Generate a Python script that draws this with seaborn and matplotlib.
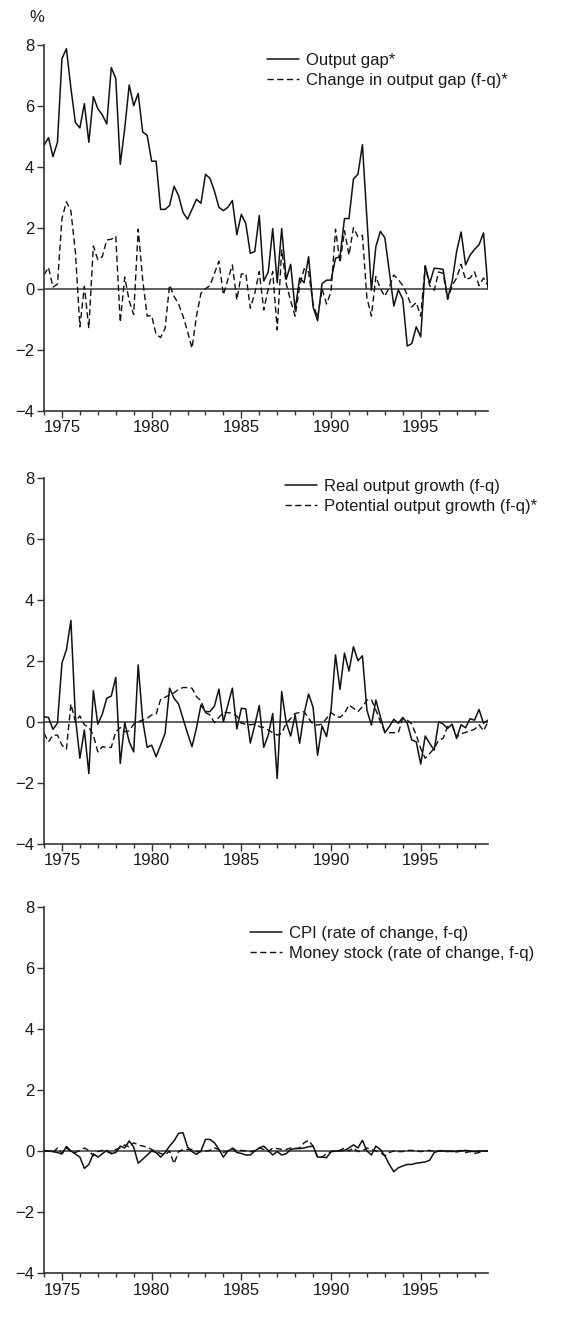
import numpy as np
import pandas as pd
import matplotlib
matplotlib.use("Agg")
import matplotlib.pyplot as plt
import seaborn as sns

# ---------------- data (quarterly, 1974Q1 .. 1998Q4) ----------------
quarters = pd.period_range("1974Q1", "1998Q4", freq="Q")

output_gap = [4.70, 4.95, 4.33, 4.80, 7.54, 7.87, 6.57, 5.45, 5.27, 6.07,
              4.80, 6.30, 5.90, 5.70, 5.40, 7.25, 6.90, 4.08, 5.25, 6.68,
              6.00, 6.40, 5.14, 5.03, 4.18, 4.18, 2.60, 2.60, 2.73, 3.36,
              3.05, 2.50, 2.28, 2.60, 2.93, 2.80, 3.75, 3.62, 3.20, 2.67,
              2.56, 2.67, 2.89, 1.77, 2.44, 2.13, 1.16, 1.22, 2.40, 0.25,
              0.55, 1.97, 0.20, 1.97, 0.30, 0.80, -0.70, 0.35, 0.20, 1.05,
              -0.60, -1.05, 0.17, 0.28, 0.28, 1.00, 1.05, 2.30, 2.30, 3.60,
              3.75, 4.72, 2.30, -0.05, 1.38, 1.88, 1.67, 0.56, -0.57, -0.04,
              -0.34, -1.88, -1.80, -1.25, -1.58, 0.75, 0.18, 0.67, 0.66, 0.63,
              -0.32, 0.23, 1.22, 1.86, 0.78, 1.10, 1.29, 1.44, 1.83, 0.00]

gap_change = [0.45, 0.70, 0.05, 0.15, 2.30, 2.85, 2.55, 1.20, -1.25, 0.08,
              -1.30, 1.40, 0.95, 1.05, 1.60, 1.62, 1.72, -1.10, 0.38, -0.40,
              -0.85, 1.95, 0.30, -0.90, -0.88, -1.50, -1.60, -1.30, 0.12, -0.25,
              -0.50, -0.90, -1.40, -1.95, -0.90, -0.15, 0.00, 0.10, 0.50, 0.90,
              -0.20, 0.30, 0.78, -0.37, 0.48, 0.50, -0.64, -0.15, 0.56, -0.70,
              0.00, 0.56, -1.35, 1.27, 0.17, -0.40, -0.90, 0.10, 0.65, 0.55,
              -0.50, -0.95, 0.00, -0.50, -0.10, 1.95, 0.85, 1.90, 1.10, 2.00,
              1.70, 1.75, -0.30, -0.90, 0.40, 0.00, -0.25, 0.05, 0.45, 0.30,
              0.10, -0.20, -0.60, -0.45, -0.90, 0.75, 0.10, -0.05, 0.55, 0.50,
              -0.35, 0.10, 0.35, 0.80, 0.30, 0.35, 0.55, 0.10, 0.35, 0.10]

real_growth = [0.16, 0.14, -0.25, -0.05, 1.92, 2.36, 3.32, 0.15, -1.20, -0.27,
               -1.70, 1.02, -0.08, 0.25, 0.77, 0.84, 1.45, -1.37, -0.03, -0.66,
               -0.99, 1.86, 0.05, -0.84, -0.77, -1.15, -0.77, -0.38, 1.10, 0.77,
               0.58, 0.10, -0.38, -0.82, -0.20, 0.55, 0.33, 0.33, 0.51, 1.07,
               0.00, 0.55, 1.10, -0.24, 0.44, 0.42, -0.70, -0.11, 0.53, -0.84,
               -0.44, 0.27, -1.86, 0.99, -0.03, -0.47, 0.22, -0.71, 0.27, 0.91,
               0.47, -1.10, -0.14, -0.49, 0.38, 2.19, 1.06, 2.25, 1.66, 2.46,
               2.00, 2.16, 0.38, -0.11, 0.71, 0.16, -0.36, -0.16, 0.08, -0.05,
               0.14, -0.05, -0.60, -0.66, -1.39, -0.47, -0.71, -0.93, 0.00, -0.08,
               -0.22, -0.08, -0.55, -0.10, -0.20, 0.10, 0.05, 0.40, -0.05, 0.05]

potential_growth = [-0.38, -0.66, -0.44, -0.44, -0.77, -0.90, 0.58, 0.00, 0.19, -0.10,
                    -0.19, -0.44, -0.99, -0.82, -0.84, -0.84, -0.33, -0.19, -0.33, -0.30,
                    -0.08, 0.00, 0.05, 0.11, 0.22, 0.25, 0.73, 0.80, 0.88, 0.95,
                    1.06, 1.12, 1.12, 1.10, 0.82, 0.69, 0.30, 0.22, -0.03, 0.14,
                    0.30, 0.30, 0.27, 0.19, -0.05, -0.08, -0.10, -0.08, -0.16, -0.19,
                    -0.27, -0.36, -0.44, -0.38, -0.05, 0.11, 0.27, 0.30, 0.33, 0.11,
                    -0.08, -0.11, -0.08, 0.11, 0.30, 0.19, 0.14, 0.27, 0.55, 0.44,
                    0.33, 0.49, 0.71, 0.73, 0.38, 0.00, -0.33, -0.36, -0.36, -0.36,
                    0.11, 0.05, -0.08, -0.44, -0.88, -1.20, -1.04, -0.88, -0.60, -0.55,
                    -0.16, -0.11, -0.50, -0.40, -0.35, -0.30, -0.25, -0.10, -0.30, 0.00]

cpi_change = [0.00, 0.00, -0.02, -0.05, -0.10, 0.15, 0.00, -0.10, -0.20, -0.57,
              -0.44, -0.09, -0.20, -0.09, 0.02, -0.09, -0.05, 0.16, 0.10, 0.33,
              0.13, -0.40, -0.27, -0.13, 0.00, -0.05, -0.20, -0.05, 0.16, 0.33,
              0.58, 0.60, 0.13, -0.02, -0.11, 0.00, 0.38, 0.38, 0.27, 0.05,
              -0.20, 0.00, 0.08, -0.05, -0.08, -0.13, -0.13, 0.00, 0.10, 0.16,
              0.02, -0.13, -0.02, -0.13, -0.09, 0.05, 0.08, 0.08, 0.10, 0.14,
              0.16, -0.20, -0.20, -0.22, -0.02, 0.00, 0.00, 0.02, 0.10, 0.20,
              0.10, 0.35, 0.00, -0.13, 0.16, 0.05, -0.16, -0.44, -0.68, -0.55,
              -0.49, -0.44, -0.44, -0.40, -0.38, -0.36, -0.30, -0.05, 0.00, 0.00,
              -0.02, 0.00, -0.03, 0.00, 0.02, 0.00, -0.02, 0.00, 0.00, 0.00]

money_change = [0.02, 0.00, -0.05, 0.10, -0.08, 0.10, -0.02, -0.05, 0.02, 0.10,
                0.02, -0.16, -0.02, 0.02, -0.02, -0.08, 0.05, 0.10, 0.20, 0.13,
                0.27, 0.20, 0.16, 0.13, 0.05, -0.02, -0.08, -0.13, 0.00, -0.42,
                -0.02, 0.05, 0.05, 0.05, -0.02, -0.02, 0.00, 0.02, 0.10, 0.05,
                -0.05, 0.00, 0.10, 0.00, 0.02, 0.00, -0.02, 0.00, 0.10, 0.05,
                -0.02, 0.10, 0.08, 0.05, 0.05, 0.10, 0.08, 0.10, 0.27, 0.35,
                0.16, -0.20, -0.20, -0.09, -0.02, 0.00, 0.02, 0.10, 0.00, 0.10,
                -0.02, 0.00, 0.10, 0.05, 0.00, -0.05, -0.16, -0.05, 0.00, -0.02,
                -0.02, 0.02, 0.02, 0.00, -0.02, 0.00, 0.02, -0.02, 0.00, 0.02,
                0.00, -0.02, 0.00, 0.02, -0.05, -0.02, -0.08, -0.05, 0.00, 0.00]

x_year_ticks = [1975, 1980, 1985, 1990, 1995]
y_ticks = [-4, -2, 0, 2, 4, 6, 8]

panels = [
    ("Output gap*", output_gap, "Change in output gap (f-q)*", gap_change),
    ("Real output growth (f-q)", real_growth, "Potential output growth (f-q)*", potential_growth),
    ("CPI (rate of change, f-q)", cpi_change, "Money stock (rate of change, f-q)", money_change),
]

# ---------------- style ----------------
sns.set_style("ticks")
plt.rcParams["font.family"] = ["Liberation Sans", "DejaVu Sans"]

W, H = 571, 1317
fig = plt.figure(figsize=(W / 100, H / 100), dpi=100)

x = quarters.year + (quarters.quarter - 1) / 4.0

# axes placement in pixels: (top of 8, bottom of -4)
ax_px = [(44.7, 410.7), (477.7, 843.7), (907.0, 1273.0)]
left_px, right_px = 44, 488
legend_px = [(267, 53), (285, 479), (250, 926)]
FS = 12

axc = "#333333"
for k, ((lab1, y1, lab2, y2), (top, bot), (lx, ly)) in enumerate(zip(panels, ax_px, legend_px)):
    ax = fig.add_axes([left_px / W, 1 - bot / H, (right_px - left_px) / W, (bot - top) / H])
    df = pd.DataFrame({"year": x, "a": y1, "b": y2})
    ax.axhline(0, color="#555555", lw=1.3, zorder=1)
    sns.lineplot(data=df, x="year", y="a", ax=ax, color="#111111", lw=1.1,
                 label=lab1, zorder=3)
    sns.lineplot(data=df, x="year", y="b", ax=ax, color="#111111", lw=1.0,
                 linestyle=(0, (4.5, 2.5)), label=lab2, zorder=2)
    ax.set_xlim(1974, 1998.75)
    ax.set_ylim(-4, 8)
    ax.set_xticks(x_year_ticks)
    ax.set_xticks(np.arange(1974, 1999), minor=True)
    ax.set_yticks(y_ticks)
    ax.set_xlabel("")
    ax.set_ylabel("")
    for s in ["top", "right"]:
        ax.spines[s].set_visible(False)
    for s in ["left", "bottom"]:
        ax.spines[s].set_color(axc)
        ax.spines[s].set_linewidth(1.2)
    ax.tick_params(axis="both", which="major", direction="out", length=5,
                   width=1.0, color=axc, labelsize=FS, labelcolor="#1a1a1a", pad=2)
    ax.tick_params(axis="x", which="minor", direction="out", length=3,
                   width=1.0, color=axc)
    ax.set_facecolor("white")
    leg = ax.legend(loc="upper left", bbox_to_anchor=(lx / W, 1 - ly / H),
                    bbox_transform=fig.transFigure, frameon=False,
                    fontsize=FS, handlelength=1.9, handletextpad=0.45,
                    labelspacing=0.3, borderpad=0, borderaxespad=0)
    for t in leg.get_texts():
        t.set_color("#1a1a1a")

fig.text(37 / W, 1 - 17 / H, "%", ha="center", va="center", fontsize=FS, color="#1a1a1a")

fig.savefig("out.png", dpi=100, facecolor="white")
